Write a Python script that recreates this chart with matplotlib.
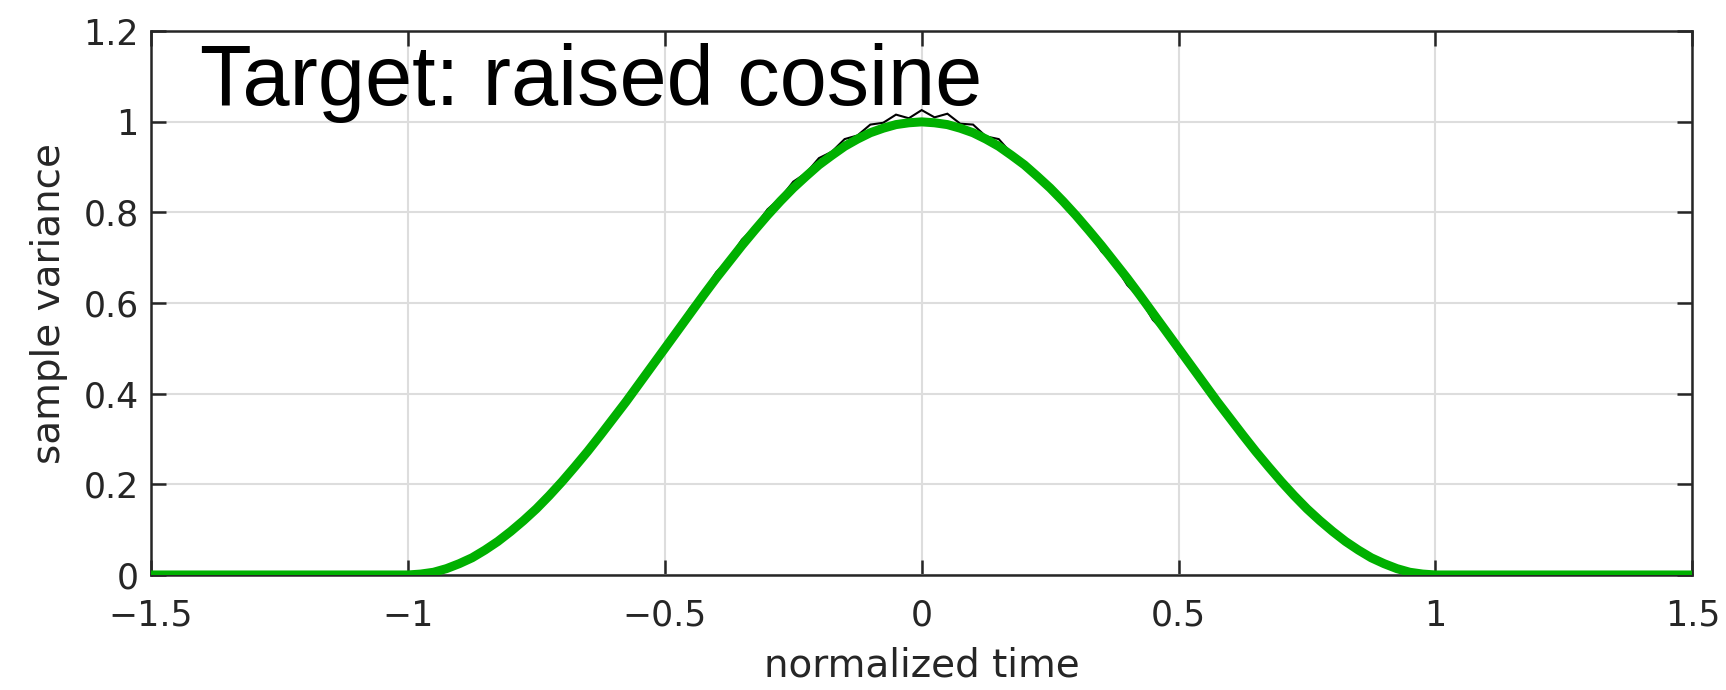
import matplotlib
matplotlib.use("Agg")
import matplotlib.pyplot as plt

# x positions (normalized time)
x_vals = [-1.5,
          -1.0, -0.975, -0.95, -0.925, -0.9, -0.875, -0.85, -0.825, -0.8, -0.775,
          -0.75, -0.725, -0.7, -0.675, -0.65, -0.625, -0.6, -0.575, -0.55, -0.525,
          -0.5, -0.475, -0.45, -0.425, -0.4, -0.375, -0.35, -0.325, -0.3, -0.275,
          -0.25, -0.225, -0.2, -0.175, -0.15, -0.125, -0.1, -0.075, -0.05, -0.025,
          0.0, 0.025, 0.05, 0.075, 0.1, 0.125, 0.15, 0.175, 0.2, 0.225,
          0.25, 0.275, 0.3, 0.325, 0.35, 0.375, 0.4, 0.425, 0.45, 0.475,
          0.5, 0.525, 0.55, 0.575, 0.6, 0.625, 0.65, 0.675, 0.7, 0.725,
          0.75, 0.775, 0.8, 0.825, 0.85, 0.875, 0.9, 0.925, 0.95, 0.975,
          1.0, 1.5]

# measured sample variance (black, noisy)
sample_var = [0.0,
              0.0, 0.002, 0.007, 0.014, 0.027, 0.037, 0.058, 0.074, 0.099, 0.121,
              0.151, 0.177, 0.213, 0.243, 0.282, 0.314, 0.355, 0.389, 0.432, 0.466,
              0.509, 0.545, 0.590, 0.622, 0.668, 0.697, 0.740, 0.768, 0.807, 0.832,
              0.868, 0.887, 0.920, 0.934, 0.962, 0.970, 0.994, 0.998, 1.016, 1.008,
              1.026, 1.010, 1.018, 0.996, 0.994, 0.968, 0.962, 0.930, 0.912, 0.884,
              0.858, 0.830, 0.786, 0.758, 0.714, 0.686, 0.640, 0.610, 0.563, 0.534,
              0.488, 0.458, 0.412, 0.382, 0.338, 0.307, 0.268, 0.238, 0.203, 0.175,
              0.144, 0.121, 0.094, 0.075, 0.053, 0.039, 0.023, 0.015, 0.005, 0.002,
              0.0, 0.0]

# target raised cosine (green)
target_var = [0.0,
              0.0, 0.002, 0.006, 0.014, 0.025, 0.038, 0.055, 0.074, 0.096, 0.120,
              0.146, 0.175, 0.206, 0.239, 0.273, 0.309, 0.346, 0.383, 0.422, 0.461,
              0.500, 0.539, 0.578, 0.617, 0.655, 0.691, 0.727, 0.761, 0.794, 0.825,
              0.854, 0.880, 0.905, 0.926, 0.946, 0.962, 0.976, 0.986, 0.994, 0.998,
              1.0, 0.998, 0.994, 0.986, 0.976, 0.962, 0.946, 0.926, 0.905, 0.880,
              0.854, 0.825, 0.794, 0.761, 0.727, 0.691, 0.655, 0.617, 0.578, 0.539,
              0.500, 0.461, 0.422, 0.383, 0.346, 0.309, 0.273, 0.239, 0.206, 0.175,
              0.146, 0.120, 0.096, 0.074, 0.055, 0.038, 0.025, 0.014, 0.006, 0.002,
              0.0, 0.0]

x_ticks = [-1.5, -1.0, -0.5, 0.0, 0.5, 1.0, 1.5]
x_ticklabels = ["\u22121.5", "\u22121", "\u22120.5", "0", "0.5", "1", "1.5"]
y_ticks = [0.0, 0.2, 0.4, 0.6, 0.8, 1.0, 1.2]
y_ticklabels = ["0", "0.2", "0.4", "0.6", "0.8", "1", "1.2"]

axis_col = "#262626"
label_font = "DejaVu Sans"

fig = plt.figure(figsize=(17.26, 6.9), dpi=100)
ax = fig.add_axes([0.0875, 0.1667, 0.893, 0.788])

ax.plot(x_vals, sample_var, color="black", lw=1.5, solid_joinstyle="miter", zorder=3)
ax.plot(x_vals, target_var, color="#00b000", lw=6.5, solid_capstyle="butt", zorder=4)

ax.set_xlim(-1.5, 1.5)
ax.set_ylim(0, 1.2)
ax.set_xticks(x_ticks)
ax.set_xticklabels(x_ticklabels, family=label_font, fontsize=25, color=axis_col)
ax.set_yticks(y_ticks)
ax.set_yticklabels(y_ticklabels, family=label_font, fontsize=25, color=axis_col)

ax.grid(True, color="#dddddd", lw=1.5)
ax.set_axisbelow(True)
ax.tick_params(direction="in", length=11, width=1.8, color=axis_col,
               top=True, right=True)
ax.tick_params(axis="x", pad=17)
ax.tick_params(axis="y", pad=9)
for sp in ax.spines.values():
    sp.set_color(axis_col)
    sp.set_linewidth(1.8)

ax.set_xlabel("normalized time", family=label_font, fontsize=28, color=axis_col, labelpad=10)
ax.set_ylabel("sample variance", family=label_font, fontsize=28, color=axis_col, labelpad=11)

ax.text(-1.405, 1.038, "Target: raised cosine", family="Liberation Sans",
        fontsize=61, color="black", va="baseline", ha="left", zorder=5)

fig.savefig("out.png", dpi=100)
